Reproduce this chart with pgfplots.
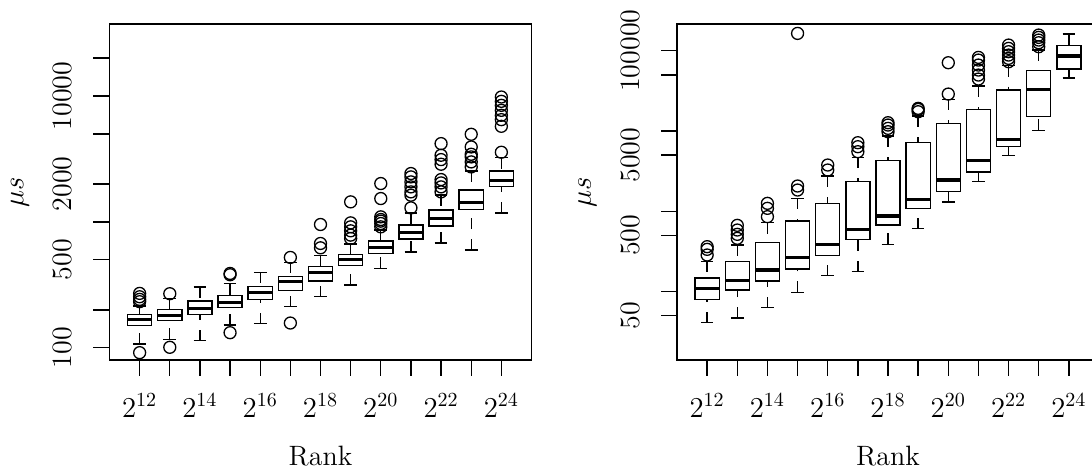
\documentclass[border=0pt]{standalone}
\usepackage{pgfplots}
\pgfplotsset{compat=1.18}
\newcommand{\fs}{\fontsize{14}{16.8}\selectfont}
\pgfplotsset{
  boxln/.style={black, no markers, forget plot, line width=0.7pt, line join=miter, line cap=rect},
  medln/.style={black, no markers, forget plot, line width=1.6pt},
  whln/.style={black, no markers, forget plot, line width=0.7pt, dash pattern=on 5.5pt off 5pt},
  capln/.style={black, no markers, forget plot, line width=0.7pt},
  outl/.style={black, only marks, mark=o, mark size=3pt, mark options={line width=0.65pt, solid}, forget plot},
  rpanel/.style={scale only axis, width=211pt, height=168pt,
    xmin=0, xmax=14,
    axis line style={line width=0.7pt},
    tick style={line width=0.7pt, black},
    major tick length=8pt, tick align=outside, tick pos=left,
    xminorticks=false, yminorticks=false,
    xtick={1,...,13},
    xticklabels={$2^{12}$,,$2^{14}$,,$2^{16}$,,$2^{18}$,,$2^{20}$,,$2^{22}$,,$2^{24}$},
    ticklabel style={font=\fs},
    xticklabel style={anchor=base},
    yticklabel style={rotate=90, anchor=base},
    xticklabel shift=20.65pt, yticklabel shift=10.9pt,
    xlabel={Rank}, ylabel={$\mu s$},
    label style={font=\fs},
    xlabel style={at={([yshift=-53pt]axis description cs:0.5,0)}, anchor=base},
    ylabel style={at={([xshift=-44.75pt]axis description cs:0,0.5)}, anchor=center},
    clip=false},
}
% #1 position, #2 lower whisker, #3 lower quartile, #4 median, #5 upper quartile, #6 upper whisker
\newcommand{\bx}[6]{%
  \edef\bxcmd{%
    \noexpand\addplot[boxln] coordinates {(\fpeval{#1-0.4},#3) (\fpeval{#1+0.4},#3) (\fpeval{#1+0.4},#5) (\fpeval{#1-0.4},#5) (\fpeval{#1-0.4},#3)};
    \noexpand\addplot[medln] coordinates {(\fpeval{#1-0.4},#4) (\fpeval{#1+0.4},#4)};
    \noexpand\addplot[whln] coordinates {(#1,#2) (#1,#3)};
    \noexpand\addplot[whln] coordinates {(#1,#6) (#1,#5)};
    \noexpand\addplot[capln] coordinates {(\fpeval{#1-0.21},#2) (\fpeval{#1+0.21},#2)};
    \noexpand\addplot[capln] coordinates {(\fpeval{#1-0.21},#6) (\fpeval{#1+0.21},#6)};
  }\bxcmd}
\begin{document}
\begin{tikzpicture}
\useasboundingbox (0,0) rectangle (546pt,237pt);
\begin{axis}[ymode=log, rpanel,
  at={(54.75pt,57pt)}, anchor=south west,
  ymin=79.85, ymax=37400,
  ytick={100,200,500,1000,2000,5000,10000,20000},
  yticklabels={100,,500,,2000,,10000,}]
\bx{1}{107}{150.5}{167}{183}{214}
\bx{2}{116.5}{165}{180.7}{201.6}{245}
\bx{3}{113.7}{184}{204}{234.8}{303}
\bx{4}{151.4}{209}{227.8}{260.4}{322}
\bx{5}{155}{242}{273.4}{305}{396.5}
\bx{6}{211.7}{285.3}{336.3}{366.3}{475.9}
\bx{7}{254}{338.3}{396.5}{439.7}{537.6}
\bx{8}{314.6}{450.5}{505.8}{550.8}{665}
\bx{9}{426.6}{561}{629.8}{707}{860}
\bx{10}{575}{733.5}{823.5}{947}{1179}
\bx{11}{677.6}{924.5}{1057}{1246}{1639}
\bx{12}{596.4}{1253}{1424.5}{1796}{2541}
\bx{13}{1179}{1920}{2117}{2541}{3243}
\addplot[outl] coordinates {
(1,270)(1,254)(1,242)(1,232)(1,91.3)
(2,268.5)(2,100.7)
(4,389)(4,380)(4,131.6)
(6,521.5)(6,157)
(7,622)(7,673.5)(7,953)
(8,738)(8,784.5)(8,849)(8,913)(8,982)(8,1442)
(9,913)(9,970)(9,1013)(9,1044)(9,1096)(9,1532)(9,2016)
(10,1292)(10,1629)(10,1731)(10,1897)(10,2078)(10,2277)(10,2421)
(11,1731)(11,1897)(11,2040)(11,2169)(11,2871)(11,3126)(11,3383)(11,4188)
(12,2734)(12,2996)(12,3282)(12,3446)(12,3940)(12,4966)
(13,3575)(13,5748)(13,6493)(13,7028)(13,7700)(13,8436)(13,9077)(13,9826)};
\end{axis}
\begin{axis}[ymode=log, rpanel,
  at={(338.5pt,57pt)}, anchor=south west,
  ymin=14.02, ymax=214900,
  ytick={50,100,500,1000,5000,10000,50000,100000},
  yticklabels={50,,500,,5000,,,100000}]
\bx{1}{40.9}{79.9}{108.4}{147.2}{237.5}
\bx{2}{46.7}{104.4}{136.4}{235.2}{379}
\bx{3}{62.9}{135}{185.2}{409.4}{719.6}
\bx{4}{97.6}{190.7}{263.8}{755}{1446}
\bx{5}{157.4}{279.3}{386.7}{1253}{2743}
\bx{6}{176.6}{442}{589}{2332}{4686}
\bx{7}{386.7}{673}{871}{4260}{8639}
\bx{8}{606}{1075}{1405}{7205}{15330}
\bx{9}{1301}{1767}{2446}{12424}{24720}
\bx{10}{2332}{3076}{4302}{18555}{36220}
\bx{11}{4914}{6362}{7851}{32300}{64900}
\bx{12}{10160}{15190}{32620}{56250}{101700}
\bx{13}{45570}{58990}{85630}{115200}{160900}
\addplot[outl] coordinates {
(1,284.7)(1,335)(1,361.6)
(2,459.5)(2,515)(2,583)(2,666.7)
(3,855)(3,1086)(3,1253)
(4,1836)(4,2060)(4,164000)
(5,3259)(5,3762)
(6,5513)(6,6362)(6,7136)
(7,9780)(7,10765)(7,11840)(7,12663)
(8,17350)(8,18555)(8,19100)
(9,28800)(9,70740)
(10,44280)(10,49660)(10,57330)(10,66150)(10,76380)(10,82400)
(11,72800)(11,80100)(11,88100)(11,97000)(11,106700)(11,117400)
(12,111900)(12,125500)(12,135500)(12,146300)(12,156400)};
\end{axis}
\end{tikzpicture}
\end{document}
